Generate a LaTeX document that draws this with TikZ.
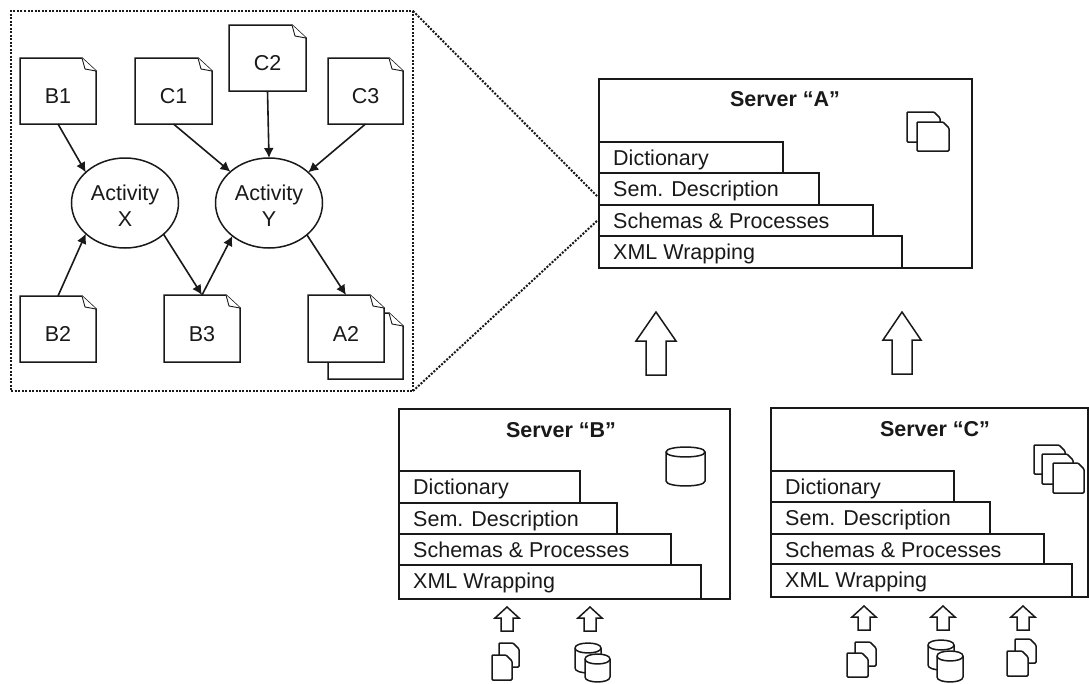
\documentclass[tikz,border=0pt]{standalone}
\usepackage{fontspec}
\setmainfont{Liberation Sans}
\usetikzlibrary{arrows.meta,shapes.geometric}
\definecolor{ink}{gray}{0.1}
\tikzset{
  lin/.style={draw=ink,line width=1.5pt,line join=miter},
  txt/.style={text=ink,font=\fontsize{21.5}{26}\selectfont,inner sep=0pt},
  ttl/.style={text=ink,font=\fontsize{21.5}{26}\selectfont\bfseries,inner sep=0pt},
  barbox/.style={lin,fill=white,rectangle,anchor=north west,inner sep=0pt,outer sep=0pt},
  docbox/.style={rectangle,inner sep=0pt,outer sep=0pt,text=ink,font=\fontsize{21.5}{26}\selectfont},
  actv/.style={lin,fill=white,ellipse,inner sep=0pt,outer sep=0pt,minimum width=107pt,minimum height=90pt,align=center,text=ink,font=\fontsize{21.5}{26}\selectfont},
  flow/.style={draw=ink,line width=1.6pt,-{Latex[length=10pt,width=10pt]}},
  zoomline/.style={draw=ink,line width=2pt,dash pattern=on 2pt off 1.5pt},
}
% name,x1,y1,x2,y2,label : document with a creased corner
\newcommand\docnode[6]{%
  \draw[lin,fill=white] (#2,#3) -- ({#4-14},#3) -- (#4,{#3+13}) -- (#4,#5) -- (#2,#5) -- cycle;
  \draw[lin,line width=0.9pt,fill=white] ({#4-14},#3) -- ({#4-11},{#3+11}) -- (#4,{#3+13});
  \node[docbox,minimum width={(#4-#2)*1pt},minimum height={(#5-#3)*1pt}] (#1) at ({(#2+#4)/2},{(#3+#5)/2}) {\raisebox{-12.5pt}[8pt][8pt]{#6}};
}
% x1,y1,x2,y2 : small page icon
\newcommand\pageicon[4]{%
  \draw[lin,fill=white,rounded corners=1pt] (#1,#2) -- ({#3-6},#2) -- (#3,{#2+6}) -- (#3,#4) -- (#1,#4) -- cycle;
}
% x1,y1,x2,y2 : cylinder icon
\newcommand\cylicon[4]{%
  \draw[lin,fill=white] (#1,{#2+5}) -- (#1,{#4-5}) .. controls (#1,{#4+1.6}) and (#3,{#4+1.6}) .. (#3,{#4-5}) -- (#3,{#2+5})
     .. controls (#3,{#2-1.6}) and (#1,{#2-1.6}) .. (#1,{#2+5}) -- cycle;
  \draw[lin] (#1,{#2+5}) .. controls (#1,{#2+11.6}) and (#3,{#2+11.6}) .. (#3,{#2+5});
}
% name,x1,y1,x2,y2,text : layer bar
\newcommand\layerbar[6]{%
  \node[barbox,minimum width={(#4-#2)*1pt},minimum height={(#5-#3)*1pt}] (#1) at (#2,#3) {};
  \node[txt,anchor=base west] (#1-t) at ({#2+14},{#3+23}) {#6};
}
% cx,tip,base,bottom,headhalf,shafthalf : hollow up arrow
\newcommand\hollowup[6]{%
  \draw[lin,fill=white] (#1,#2) -- ({#1+#5},#3) -- ({#1+#6},#3) -- ({#1+#6},#4) -- ({#1-#6},#4) -- ({#1-#6},#3) -- ({#1-#5},#3) -- cycle;
}
\begin{document}
\begin{tikzpicture}[x=1pt,y=-1pt]
\useasboundingbox (0,0) rectangle (1089,683);
\fill[white] (0,0) rectangle (1089,683);

% magnified frame
\node[zoomline,rectangle,anchor=north west,inner sep=0pt,outer sep=0pt,minimum width=402pt,minimum height=380pt] (frame) at (11,11) {};
\coordinate (zoomtop) at (598,197);
\coordinate (zoombot) at (598,220);
\draw[zoomline] (frame.north east) -- (zoomtop);
\draw[zoomline] (frame.south east) -- (zoombot);

% documents
\docnode{b1}{20}{58}{96}{124}{B1}
\docnode{c1}{135}{58}{212}{124}{C1}
\docnode{c2}{229}{25}{306}{91}{C2}
\docnode{c3}{328}{58}{403}{124}{C3}
\docnode{b2}{20}{296}{96}{362}{B2}
\docnode{b3}{164}{295}{240}{362}{B3}
\docnode{a2b}{328}{313}{403}{379}{}
\docnode{a2}{308}{295}{384}{362}{A2}

% activities
\node[actv] (x) at (125,203) {\rule{0pt}{21pt}Activity\\X};
\node[actv] (y) at (269,203) {\rule{0pt}{21pt}Activity\\Y};

% flows
\draw[flow] (b1.south) -- (x.142);
\draw[flow] (c1.south) -- (y.141);
\draw[flow] (c2.south) -- (y.north);
\draw[flow] (c3.south) -- (y.38);
\draw[flow] (b2.north) -- (x.218);
\draw[flow] (x.-39) -- (b3.north);
\draw[flow] (b3.north) -- (y.222);
\draw[flow] (y.-40) -- (a2.north);

% Server A
\node[barbox,minimum width=373pt,minimum height=189pt] (srva) at (599,79) {};
\node[ttl] (srva-t) at (785,99) {Server “A”};
\layerbar{a4}{599}{236}{902}{268}{XML Wrapping}
\layerbar{a3}{599}{205}{873}{236}{Schemas \& Processes}
\layerbar{a2l}{599}{173}{819}{205}{Sem. Description}
\layerbar{a1}{599}{142}{783}{173}{Dictionary}
\pageicon{907}{112}{940}{142}
\pageicon{917}{122}{949}{151}

% big arrows
\hollowup{656}{312}{341}{375}{20}{10}
\hollowup{902}{312}{340}{374}{19}{10}

% Server B
\node[barbox,minimum width=331pt,minimum height=190pt] (srvb) at (399,409) {};
\node[ttl] (srvb-t) at (561,430) {Server “B”};
\layerbar{b4l}{399}{565}{701}{599}{XML Wrapping}
\layerbar{b3l}{399}{534}{671}{565}{Schemas \& Processes}
\layerbar{b2l}{399}{503}{617}{534}{Sem. Description}
\layerbar{b1l}{399}{471}{580}{503}{Dictionary}
\cylicon{666}{447}{705}{486}
\hollowup{507}{607}{618}{631}{12}{6}
\hollowup{590}{607}{618}{631}{12}{6}
\pageicon{499}{643}{519}{667}
\pageicon{492}{655}{512}{680}
\cylicon{575}{643}{601}{673}
\cylicon{585}{654}{610}{682}

% Server C
\node[barbox,minimum width=317pt,minimum height=189pt] (srvc) at (771,408) {};
\node[ttl] (srvc-t) at (935,429) {Server “C”};
\layerbar{c4l}{771}{564}{1072}{597}{XML Wrapping}
\layerbar{c3l}{771}{534}{1044}{564}{Schemas \& Processes}
\layerbar{c2l}{771}{502}{990}{534}{Sem. Description}
\layerbar{c1l}{771}{471}{954}{502}{Dictionary}
\pageicon{1034}{445}{1065}{474}
\pageicon{1042}{454}{1073}{484}
\pageicon{1053}{463}{1084}{493}
\hollowup{864}{606}{617}{630}{12}{6}
\hollowup{943}{606}{617}{630}{12}{6}
\hollowup{1023}{606}{617}{630}{12}{6}
\pageicon{855}{642}{876}{666}
\pageicon{847}{653}{868}{677}
\cylicon{928}{640}{954}{670}
\cylicon{937}{651}{963}{682}
\pageicon{1015}{639}{1036}{663}
\pageicon{1007}{651}{1028}{676}
\end{tikzpicture}
\end{document}
